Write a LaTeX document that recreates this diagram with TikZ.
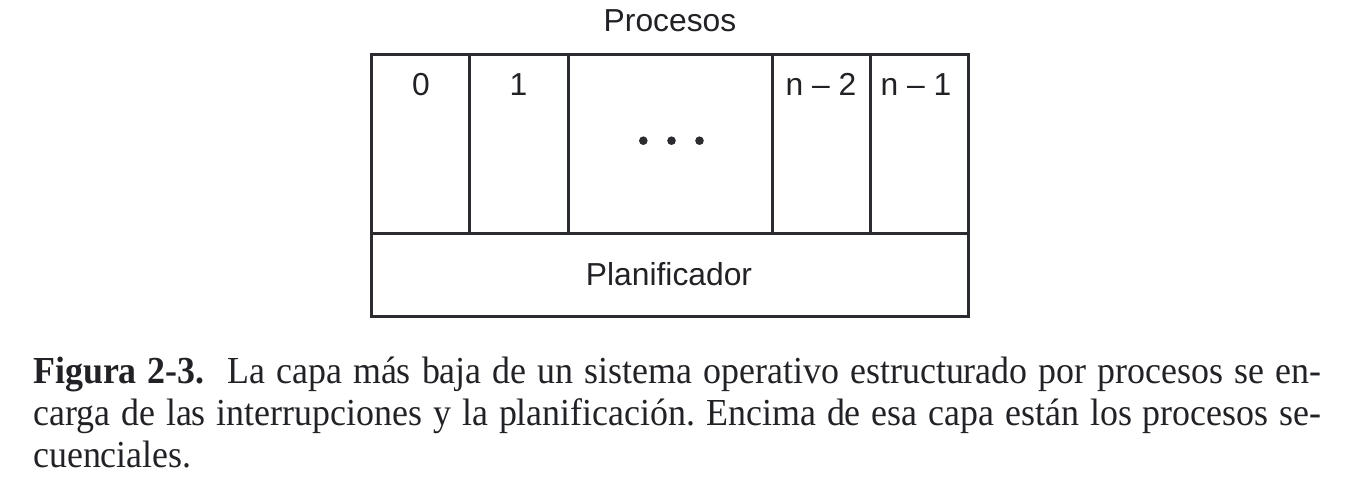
\documentclass[tikz,border=0pt]{standalone}
\usepackage{fontspec}
\setmainfont[FakeStretch=0.94]{Liberation Serif}
\newfontfamily\hv{Liberation Sans}
\definecolor{ink}{HTML}{2B2B30}
\definecolor{txt}{HTML}{222226}
\frenchspacing
\begin{document}
\begin{tikzpicture}[x=1pt,y=-1pt,
  cell/.style={draw=ink,line width=3pt,rectangle,inner sep=0pt,outer sep=0pt,anchor=north west},
  lab/.style={inner sep=0pt,anchor=base,text=txt,font=\hv\fontsize{31.8}{36}\selectfont},
  capline/.style={inner sep=0pt,anchor=base west,text=txt,font=\fontsize{38.2}{41.5}\selectfont},
  dot/.style={circle,fill=ink,inner sep=0pt,minimum size=8.6pt}]
\useasboundingbox (0,0) rectangle (1348,500);
% cells
\node[cell,minimum width=98pt,minimum height=179pt] (c0) at (371.5,54.5) {};
\node[cell,minimum width=98.5pt,minimum height=179pt] (c1) at (469.5,54.5) {};
\node[cell,minimum width=204pt,minimum height=179pt] (cd) at (568,54.5) {};
\node[cell,minimum width=98pt,minimum height=179pt] (c2) at (772,54.5) {};
\node[cell,minimum width=98pt,minimum height=179pt] (c3) at (870,54.5) {};
\node[cell,minimum width=596.5pt,minimum height=82.5pt] (pl) at (371.5,233.5) {};
% labels
\node[lab] (tp) at (670,31.7) {Procesos};
\node[lab] (t0) at (421,96) {0};
\node[lab] (t1) at (518.5,96) {1};
\node[lab] (t2) at (821,96) {n – 2};
\node[lab] (t3) at (916,96) {n – 1};
\node[lab] (tpl) at (669,285.7) {Planificador};
% dots
\node[dot] (d1) at (643.3,140.7) {};
\node[dot] (d2) at (671.5,140.7) {};
\node[dot] (d3) at (699.5,140.7) {};
% caption
\node[capline] (cap1) at (33,383) {\hbox to 1288pt{\textbf{Figura 2-3.}\hspace{0.3em} La capa más baja de un sistema operativo estructurado por procesos se en-}};
\node[capline] (cap2) at (33,425) {\hbox to 1288pt{carga de las interrupciones y la planificación. Encima de esa capa están los procesos se-}};
\node[capline] (cap3) at (33,467) {cuenciales.};
\end{tikzpicture}
\end{document}
